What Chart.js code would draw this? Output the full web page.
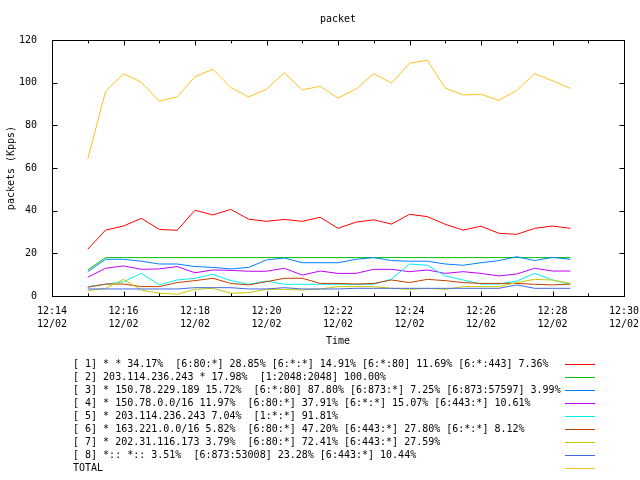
<!DOCTYPE html>
<html>
<head>
<meta charset="utf-8">
<script src="https://cdn.jsdelivr.net/npm/chart.js@4.4.1/dist/chart.umd.min.js"></script>
<style>
  html, body { margin: 0; padding: 0; background: #fff; }
  #wrap { width: 640px; height: 480px; position: relative; }
</style>
</head>
<body>
<div id="wrap"><canvas id="packetChart" width="640" height="480"></canvas></div>
<script>
// sample times (30 s apart)
var times = ['12:15:00', '12:15:30', '12:16:00', '12:16:30', '12:17:00', '12:17:30', '12:18:00',
    '12:18:30', '12:19:00', '12:19:30', '12:20:00', '12:20:30', '12:21:00', '12:21:30',
    '12:22:00', '12:22:30', '12:23:00', '12:23:30', '12:24:00', '12:24:30', '12:25:00',
    '12:25:30', '12:26:00', '12:26:30', '12:27:00', '12:27:30', '12:28:00', '12:28:30'];

var s1 = [21.9, 30.9, 32.8, 36.4, 31.2, 30.8, 40.2, 38.0, 40.6, 36.0, 35.0, 35.9, 35.0, 36.9,
    31.7, 34.6, 35.7, 33.7, 38.3, 37.2, 33.6, 30.9, 32.7, 29.4, 28.9, 31.7, 32.8, 31.7];
var s2 = [12.2, 18.0, 18.0, 18.0, 18.0, 18.0, 18.0, 18.0, 18.0, 18.0, 18.0, 18.0, 18.0, 18.0,
    18.0, 18.0, 18.0, 18.0, 18.0, 18.0, 18.0, 18.0, 18.0, 18.0, 18.0, 18.0, 18.0, 18.0];
var s3 = [11.4, 17.2, 17.2, 16.3, 15.0, 15.0, 13.8, 13.4, 12.7, 13.4, 16.9, 17.8, 15.6, 15.6,
    15.6, 17.2, 18.0, 16.6, 16.3, 16.3, 15.0, 14.4, 15.6, 16.6, 18.4, 16.6, 18.1, 17.2];
var s4 = [8.8, 13.0, 14.1, 12.5, 12.7, 13.8, 10.9, 12.2, 12.0, 11.6, 11.6, 13.0, 9.8, 11.7,
    10.6, 10.6, 12.5, 12.5, 11.4, 12.2, 10.6, 11.4, 10.6, 9.4, 10.3, 13.0, 11.7, 11.7];
var s5 = [4.4, 5.5, 6.7, 10.6, 5.2, 7.5, 8.3, 10.2, 7.2, 5.5, 7.0, 5.5, 5.5, 5.5,
    5.5, 5.5, 5.5, 8.0, 15.0, 14.4, 9.4, 7.5, 5.6, 5.6, 7.0, 10.6, 7.5, 5.5];
var s6 = [4.1, 5.6, 5.6, 4.4, 4.4, 6.3, 7.2, 8.3, 5.9, 5.2, 6.7, 8.3, 8.3, 5.9,
    5.9, 5.6, 5.9, 7.5, 6.3, 7.8, 7.2, 6.3, 5.9, 5.9, 5.9, 5.5, 5.2, 5.6];
var s7 = [2.5, 3.6, 7.8, 2.8, 1.3, 0.8, 3.1, 3.6, 1.3, 1.6, 3.1, 3.1, 2.8, 3.3,
    4.4, 4.4, 4.4, 3.6, 3.1, 3.6, 3.1, 4.4, 4.4, 4.4, 6.3, 7.8, 7.5, 5.9];
var s8 = [3.3, 3.3, 3.3, 3.3, 3.3, 3.3, 3.9, 3.9, 3.9, 3.3, 3.3, 3.9, 3.3, 3.3,
    3.3, 3.6, 3.6, 3.6, 3.6, 3.6, 3.6, 3.6, 3.6, 3.6, 5.2, 3.6, 3.6, 3.6];
var total = [64.2, 96.0, 104.2, 100.2, 91.4, 93.3, 102.8, 106.3, 97.8, 93.3, 96.9, 104.7, 96.6, 98.3,
    92.8, 97.0, 104.2, 99.8, 109.1, 110.5, 97.5, 94.2, 94.6, 91.7, 96.4, 104.2, 100.9, 97.3];

var labels = [
    '[ 1] * * 34.17%  [6:80:*] 28.85% [6:*:*] 14.91% [6:*:80] 11.69% [6:*:443] 7.36%',
    '[ 2] 203.114.236.243 * 17.98%  [1:2048:2048] 100.00%',
    '[ 3] * 150.78.229.189 15.72%  [6:*:80] 87.80% [6:873:*] 7.25% [6:873:57597] 3.99%',
    '[ 4] * 150.78.0.0/16 11.97%  [6:80:*] 37.91% [6:*:*] 15.07% [6:443:*] 10.61%',
    '[ 5] * 203.114.236.243 7.04%  [1:*:*] 91.81%',
    '[ 6] * 163.221.0.0/16 5.82%  [6:80:*] 47.20% [6:443:*] 27.80% [6:*:*] 8.12%',
    '[ 7] * 202.31.116.173 3.79%  [6:80:*] 72.41% [6:443:*] 27.59%',
    '[ 8] *:: *:: 3.51%  [6:873:53008] 23.28% [6:443:*] 10.44%',
    'TOTAL'
];
var colors = ['#ff0000', '#00c000', '#0080ff', '#c000ff', '#00eeee', '#c04000', '#c8c800', '#4169e1', '#ffc020'];
var series = [s1, s2, s3, s4, s5, s6, s7, s8, total];

var FONT = '"DejaVu Sans Mono", monospace';

function toMinutes(t) {
    var p = t.split(':');
    return +p[0] * 60 + +p[1] + +p[2] / 60;
}
function fmtTime(v) {
    var h = Math.floor(v / 60), m = Math.round(v - h * 60);
    return h + ':' + (m < 10 ? '0' : '') + m;
}

var datasets = series.map(function (vals, i) {
    return {
        label: labels[i],
        data: vals.map(function (v, j) { return { x: toMinutes(times[j]), y: v }; }),
        borderColor: colors[i],
        backgroundColor: colors[i],
        borderWidth: 1,
        pointRadius: 0,
        tension: 0,
        fill: false,
        order: -i
    };
});

// gnuplot style frame, inward ticks, title and key
var gnuFrame = {
    id: 'gnuFrame',
    afterDraw: function (chart) {
        var ctx = chart.ctx, a = chart.chartArea, x = chart.scales.x, y = chart.scales.y;
        ctx.save();
        ctx.strokeStyle = '#000';
        ctx.lineWidth = 1;
        var l = Math.round(a.left) + 0.5, r = Math.round(a.right) + 0.5;
        var t = Math.round(a.top) + 0.5, b = Math.round(a.bottom) + 0.5;
        ctx.strokeRect(l, t, r - l, b - t);
        ctx.beginPath();
        for (var m = x.min; m <= x.max; m += 1) {
            var px = Math.round(x.getPixelForValue(m)) + 0.5;
            var len = (m - x.min) % 2 === 0 ? 5 : 3;
            ctx.moveTo(px, b); ctx.lineTo(px, b - len);
            ctx.moveTo(px, t); ctx.lineTo(px, t + len);
        }
        y.ticks.forEach(function (tk) {
            var py = Math.round(y.getPixelForValue(tk.value)) + 0.5;
            ctx.moveTo(l, py); ctx.lineTo(l + 5, py);
            ctx.moveTo(r, py); ctx.lineTo(r - 5, py);
        });
        ctx.stroke();

        ctx.fillStyle = '#000';
        ctx.font = '10px ' + FONT;
        ctx.textAlign = 'center';
        ctx.textBaseline = 'middle';
        ctx.fillText('packet', (a.left + a.right) / 2, 19);

        // key below the plot
        ctx.textAlign = 'left';
        chart.data.datasets.forEach(function (ds, i) {
            var ly = 364 + i * 13;
            ctx.fillStyle = '#000';
            ctx.fillText(ds.label, 73, ly);
            ctx.strokeStyle = ds.borderColor;
            ctx.beginPath();
            ctx.moveTo(565, ly + 0.5);
            ctx.lineTo(595, ly + 0.5);
            ctx.stroke();
        });
        ctx.restore();
    }
};

new Chart(document.getElementById('packetChart').getContext('2d'), {
    type: 'line',
    data: { datasets: datasets },
    options: {
        responsive: false,
        animation: false,
        events: [],
        layout: { padding: { top: 40, right: 16, bottom: 132, left: 0 } },
        plugins: { legend: { display: false }, title: { display: false }, tooltip: { enabled: false } },
        scales: {
            x: {
                type: 'linear',
                min: 734,
                max: 750,
                grid: { display: false },
                border: { display: false },
                ticks: {
                    stepSize: 2,
                    autoSkip: false,
                    maxRotation: 0,
                    padding: 1,
                    color: '#000',
                    font: { family: FONT, size: 10, lineHeight: '13px' },
                    callback: function (v) { return [fmtTime(v), '12/02']; }
                },
                title: { display: true, text: 'Time', color: '#000', font: { family: FONT, size: 10 }, padding: { top: 0, bottom: 1 } },
                afterFit: function (s) { s.height = 52; s.paddingLeft = 0; s.paddingRight = 0; }
            },
            y: {
                min: 0,
                max: 120,
                grid: { display: false },
                border: { display: false },
                ticks: { stepSize: 20, padding: 7, color: '#000', font: { family: FONT, size: 10 } },
                title: { display: true, text: 'packets (Kpps)', color: '#000', font: { family: FONT, size: 10 }, padding: { top: 5, bottom: 0 } },
                afterFit: function (s) { s.width = 52; s.paddingTop = 0; s.paddingBottom = 0; }
            }
        }
    },
    plugins: [gnuFrame]
});
</script>
</body>
</html>
